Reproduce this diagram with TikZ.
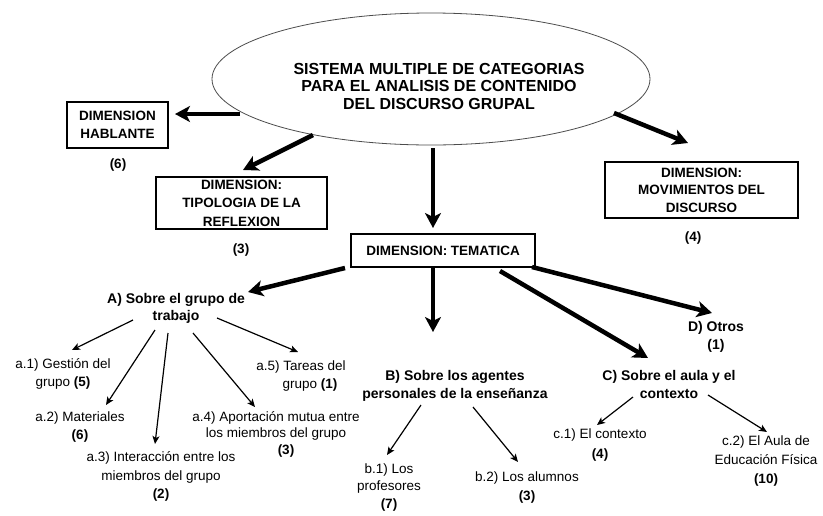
\documentclass[tikz,border=0pt]{standalone}
\usepackage{fontspec}
\setmainfont{Liberation Sans}
\usetikzlibrary{arrows.meta,shapes.geometric}
\tikzset{
  big/.style={line width=4.5pt,-{Stealth[length=15pt,width=16pt,inset=4pt]}},
  small/.style={line width=1.2pt,-{Stealth[length=8pt,width=7pt,inset=2pt]}},
  dimbox/.style={draw,line width=1.3pt,inner sep=0pt,align=center,
    font=\bfseries\fontsize{13.5}{18.5}\selectfont},
  lab/.style={align=center,inner sep=0pt,font=\fontsize{13.5}{18}\selectfont},
  blab/.style={align=center,inner sep=0pt,font=\bfseries\fontsize{14}{17.5}\selectfont},
  num/.style={inner sep=0pt,font=\bfseries\fontsize{13.5}{16}\selectfont}
}
\begin{document}
\begin{tikzpicture}[x=1pt,y=-1pt]
\useasboundingbox[fill=white] (0,0) rectangle (823,515);
% ellipse and title
\node[ellipse,draw=black!70,line width=0.8pt,minimum width=438pt,minimum height=132pt,inner sep=0pt] (ell) at (431,79) {};
\node[align=center,inner sep=0pt,font=\bfseries\fontsize{16}{17.5}\selectfont] (title) at (439,86)
  {SISTEMA MULTIPLE DE CATEGORIAS\\PARA EL ANALISIS DE CONTENIDO\\DEL DISCURSO GRUPAL};
% dimension boxes
\node[dimbox,minimum width=101pt,minimum height=46pt] (hab) at (117.5,125) {DIMENSION\\HABLANTE};
\node[num] (hab6) at (118,165) {(6)};
\node[dimbox,minimum width=171pt,minimum height=52pt] (tip) at (241.5,203) {DIMENSION:\\TIPOLOGIA DE LA\\REFLEXION};
\node[num] (tip3) at (241,250) {(3)};
\node[dimbox,minimum width=184pt,minimum height=33pt] (tem) at (443,250.5) {DIMENSION: TEMATICA};
\node[dimbox,minimum width=193pt,minimum height=56pt,font=\bfseries\fontsize{13.5}{17.5}\selectfont] (mov) at (701.5,190) {DIMENSION:\\MOVIMIENTOS DEL\\DISCURSO};
\node[num] (mov4) at (693,238) {(4)};
% thematic categories
\node[blab] (A) at (176,308.5) {A) Sobre el grupo de\\trabajo};
\node[blab] (B) at (455,386) {B) Sobre los agentes\\personales de la enseñanza};
\node[blab] (C) at (669,384.5) {C) Sobre el aula y el\\contexto};
\node[blab] (D) at (716,337) {D) Otros\\(1)};
% sub categories
\node[lab] (a1) at (63,374) {a.1) Gestión del\\grupo \textbf{(5)}};
\node[lab] (a2) at (80,427.5) {a.2) Materiales\\\textbf{(6)}};
\node[lab,font=\fontsize{13.5}{18.5}\selectfont] (a3) at (161,476.5) {a.3) Interacción entre los\\miembros del grupo\\\textbf{(2)}};
\node[lab,font=\fontsize{13.5}{16.5}\selectfont] (a4) at (276,434) {a.4) Aportación mutua entre\\los miembros del grupo\\\hspace*{20pt}\textbf{(3)}};
\node[lab] (a5) at (301,376) {a.5) Tareas del\\\hspace*{18pt}grupo \textbf{(1)}};
\node[lab,font=\fontsize{13.5}{17.5}\selectfont] (b1) at (389,487.5) {b.1) Los\\profesores\\\textbf{(7)}};
\node[lab,font=\fontsize{13.5}{19}\selectfont] (b2) at (527,487.5) {b.2) Los alumnos\\\textbf{(3)}};
\node[lab,font=\fontsize{13.5}{20}\selectfont] (c1) at (600,445) {c.1) El contexto\\\textbf{(4)}};
\node[lab,font=\fontsize{13.5}{19}\selectfont] (c2) at (766,461) {c.2) El Aula de\\Educación Física\\\textbf{(10)}};
% connector end points
\coordinate (ehab) at (240,114); \coordinate (thab) at (175,114);
\coordinate (etip) at (313,135); \coordinate (ttip) at (243,170);
\coordinate (etem) at (433,148); \coordinate (ttem) at (433,228);
\coordinate (emov) at (614,113); \coordinate (tmov) at (688,143);
\coordinate (sA) at (345,268); \coordinate (tA) at (248,292);
\coordinate (sB) at (433,268); \coordinate (tB) at (433,332);
\coordinate (sC) at (500,271); \coordinate (tC) at (648,358);
\coordinate (sD) at (532,267); \coordinate (tD) at (712,313);
\coordinate (sa1) at (133,320); \coordinate (ta1) at (72,350);
\coordinate (sa2) at (155,330); \coordinate (ta2) at (106,405);
\coordinate (sa3) at (168,333); \coordinate (ta3) at (155,444);
\coordinate (sa4) at (193,333); \coordinate (ta4) at (255,407);
\coordinate (sa5) at (217,318); \coordinate (ta5) at (298,352);
\coordinate (sb1) at (421,405); \coordinate (tb1) at (387,455);
\coordinate (sb2) at (473,407); \coordinate (tb2) at (518,462);
\coordinate (sc1) at (633,397); \coordinate (tc1) at (597,425);
\coordinate (sc2) at (708,395); \coordinate (tc2) at (767,432);
% thick arrows
\draw[big] (ehab) -- (thab);
\draw[big] (etip) -- (ttip);
\draw[big] (etem) -- (ttem);
\draw[big] (emov) -- (tmov);
\draw[big] (sA) -- (tA);
\draw[big] (sB) -- (tB);
\draw[big] (sC) -- (tC);
\draw[big] (sD) -- (tD);
% thin arrows
\draw[small] (sa1) -- (ta1);
\draw[small] (sa2) -- (ta2);
\draw[small] (sa3) -- (ta3);
\draw[small] (sa4) -- (ta4);
\draw[small] (sa5) -- (ta5);
\draw[small] (sb1) -- (tb1);
\draw[small] (sb2) -- (tb2);
\draw[small] (sc1) -- (tc1);
\draw[small] (sc2) -- (tc2);
\end{tikzpicture}
\end{document}
